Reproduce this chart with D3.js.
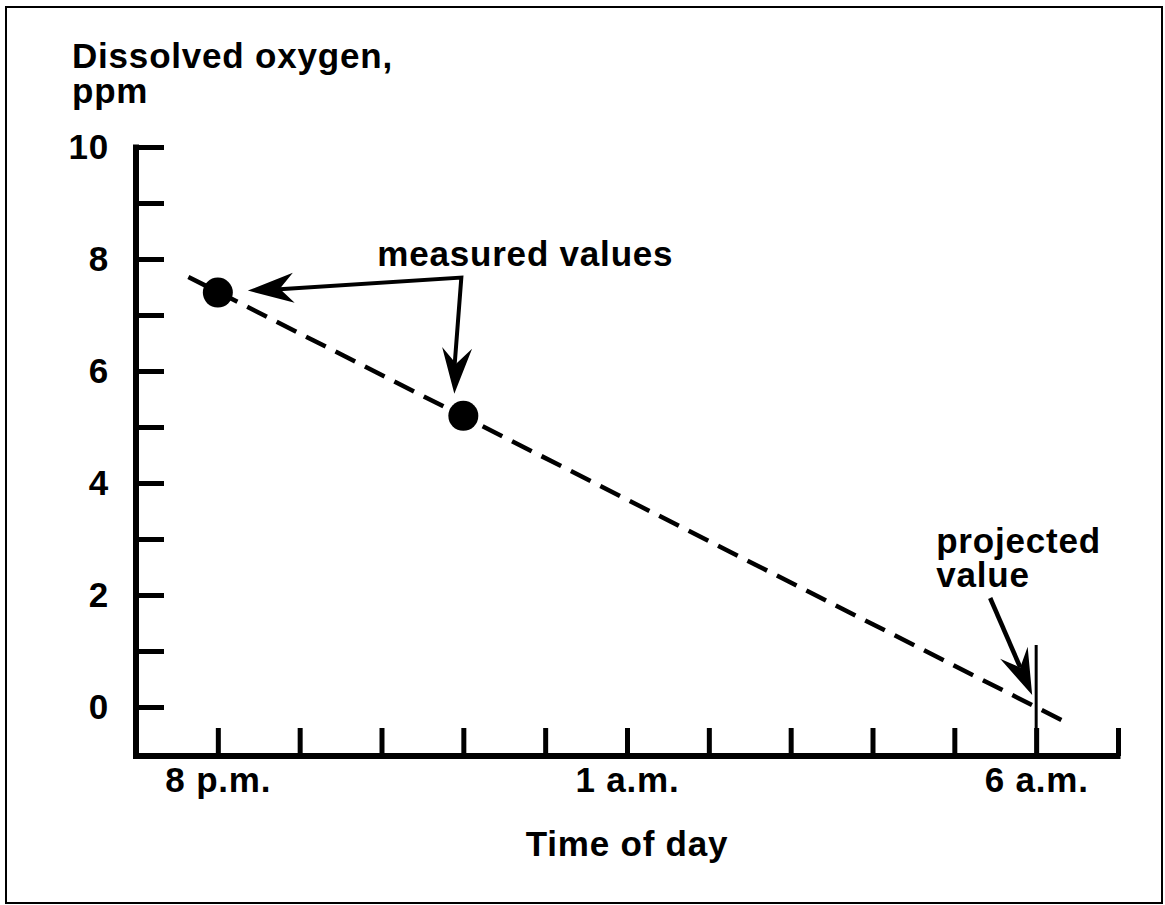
<!DOCTYPE html>
<meta charset="utf-8">
<style>
  body { margin: 0; background: #fff; }
  text { font-family: "Liberation Sans", Arial, Helvetica, sans-serif; font-weight: bold; fill: #000; }
</style>
<body>
<script src="https://cdn.jsdelivr.net/npm/d3@7"></script>
<script>
  // data (hour of day, 24h clock continuing past midnight)
  var measuredHours = [20, 23];
  var measuredPpm = [7.4, 5.2];
  var trendHours = [19.64, 30.36];
  var trendPpm = [7.68, -0.27];
  var projectedHour = 30, projectedPpm = 0;
  var yTicks = d3.range(0, 11);
  var xTicks = d3.range(20, 32);
  var xLabels = { 20: "8 p.m.", 25: "1 a.m.", 30: "6 a.m." };

  var W = 1165, H = 905;
  var font = 35, spacing = "0.8px";

  var svg = d3.select("body").append("svg")
    .attr("width", W)
    .attr("height", H);

  // outer frame
  svg.append("rect")
    .attr("x", 6).attr("y", 7)
    .attr("width", 1156).attr("height", 896)
    .attr("fill", "none")
    .attr("stroke", "#000")
    .attr("stroke-width", 2);

  var x = d3.scaleLinear().domain([19, 31]).range([136, 1118]),
    y = d3.scaleLinear().domain([0, 10]).range([707, 147]);
  var axisY = 756;

  // y axis
  var gy = svg.append("g")
    .attr("transform", "translate(" + x(19) + ",0)")
    .call(d3.axisLeft(y)
      .tickValues(yTicks)
      .tickSizeInner(-28)
      .tickSizeOuter(0)
      .tickPadding(27)
      .tickFormat(function(d) { return d % 2 === 0 ? d : ""; }));
  gy.select(".domain").remove();
  gy.selectAll("line").attr("stroke", "#000").attr("stroke-width", 5);
  gy.selectAll("text")
    .attr("font-size", font)
    .attr("font-family", null)
    .style("letter-spacing", spacing);

  // x axis
  var gx = svg.append("g")
    .attr("transform", "translate(0," + axisY + ")")
    .call(d3.axisBottom(x)
      .tickValues(xTicks)
      .tickSizeInner(-28)
      .tickSizeOuter(0)
      .tickPadding(11)
      .tickFormat(function(d) { return xLabels[d] || ""; }));
  gx.select(".domain").remove();
  gx.selectAll("line").attr("stroke", "#000").attr("stroke-width", 5);
  gx.selectAll("text")
    .attr("font-size", font)
    .attr("font-family", null)
    .style("letter-spacing", spacing);

  // axis lines
  svg.append("path")
    .attr("d", "M" + x(19) + "," + (y(10) - 2.5) + "V" + axisY + "H" + (x(31) + 2.5))
    .attr("fill", "none")
    .attr("stroke", "#000")
    .attr("stroke-width", 6);

  // titles
  var yTitle = svg.append("text")
    .attr("font-size", font)
    .style("letter-spacing", spacing);
  yTitle.append("tspan").attr("x", 72).attr("y", 68).text("Dissolved oxygen,");
  yTitle.append("tspan").attr("x", 72).attr("y", 103).text("ppm");

  svg.append("text")
    .attr("x", x(25)).attr("y", 856)
    .attr("text-anchor", "middle")
    .attr("font-size", font)
    .style("letter-spacing", spacing)
    .text("Time of day");

  // dashed trend line
  var trend = trendHours.map(function(h, i) { return [h, trendPpm[i]]; });
  svg.append("path")
    .datum(trend)
    .attr("d", d3.line().x(function(d) { return x(d[0]); }).y(function(d) { return y(d[1]); }))
    .attr("fill", "none")
    .attr("stroke", "#000")
    .attr("stroke-width", 4.5)
    .attr("stroke-dasharray", "22,11");

  // measured points
  svg.selectAll(".point")
    .data(measuredHours)
    .enter().append("circle")
    .attr("class", "point")
    .attr("cx", function(d) { return x(d); })
    .attr("cy", function(d, i) { return y(measuredPpm[i]); })
    .attr("r", 15)
    .attr("fill", "#000");

  // arrowhead: concave filled head at tip, pointing away from "from"
  function arrowhead(tip, from, len, half, notch) {
    var dx = tip[0] - from[0], dy = tip[1] - from[1];
    var l = Math.sqrt(dx * dx + dy * dy);
    var ux = dx / l, uy = dy / l, px = -uy, py = ux;
    var bx = tip[0] - ux * len, by = tip[1] - uy * len;
    var nx = tip[0] - ux * notch, ny = tip[1] - uy * notch;
    svg.append("path")
      .attr("d", "M" + tip[0] + "," + tip[1] +
        "L" + (bx + px * half) + "," + (by + py * half) +
        "L" + nx + "," + ny +
        "L" + (bx - px * half) + "," + (by - py * half) + "Z")
      .attr("fill", "#000");
  }

  // "measured values" annotation
  var p1 = [x(measuredHours[0]), y(measuredPpm[0])],
    p2 = [x(measuredHours[1]), y(measuredPpm[1])];
  var corner = [p2[0] - 2, p1[1] - 15];
  var tip1 = [p1[0] + 30, p1[1] - 2],
    tip2 = [p2[0] - 9, p2[1] - 22];

  svg.append("path")
    .attr("d", "M" + (tip1[0] + 20) + "," + (tip1[1] - 0.5) + "L" + corner[0] + "," + corner[1] +
      "L" + tip2[0] + "," + (tip2[1] - 25))
    .attr("fill", "none")
    .attr("stroke", "#000")
    .attr("stroke-width", 4)
    .attr("stroke-linejoin", "miter");
  arrowhead(tip1, corner, 46, 15, 32);
  arrowhead(tip2, corner, 46, 15, 30);

  svg.append("text")
    .attr("x", corner[0] + 64).attr("y", corner[1] - 12)
    .attr("text-anchor", "middle")
    .attr("font-size", font)
    .style("letter-spacing", spacing)
    .text("measured values");

  // projected value annotation
  var pp = [x(projectedHour), y(projectedPpm)];
  svg.append("line")
    .attr("x1", pp[0]).attr("x2", pp[0])
    .attr("y1", pp[1] - 62).attr("y2", axisY)
    .attr("stroke", "#000")
    .attr("stroke-width", 3);

  var tail = [pp[0] - 46, pp[1] - 109],
    tip3 = [pp[0] - 4, pp[1] - 12];
  svg.append("line")
    .attr("x1", tail[0]).attr("y1", tail[1])
    .attr("x2", tip3[0] - 0.397 * 30).attr("y2", tip3[1] - 0.918 * 30)
    .attr("stroke", "#000")
    .attr("stroke-width", 4.5);
  arrowhead(tip3, tail, 46, 15, 30);

  var pt = svg.append("text")
    .attr("font-size", font)
    .style("letter-spacing", spacing);
  pt.append("tspan").attr("x", pp[0] - 100).attr("y", 553).text("projected");
  pt.append("tspan").attr("x", pp[0] - 100).attr("y", 587).text("value");
</script>
</body>
